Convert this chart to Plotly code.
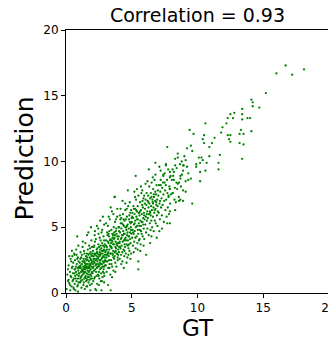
import plotly.graph_objects as go

# Sparse high-value points (read individually)
gt_sparse = [16.7,16.0,17.2,18.1,15.2,14.1,14.2,14.2,14.7,13.8,
             14.0,13.4,13.4,13.4,12.8,12.5,12.3,12.7,12.2,11.9,
             11.8,14.1,13.3,13.2,13.5,12.5,12.3,12.4,12.5,13.2,
             13.5,13.4,10.6,10.5,10.4,11.3,11.1,10.9,10.5,9.4,
             9.7,9.5,9.2,9.6,11.7,10.9,11.6,10.7,11.6,10.6,
             10.3,10.1,10.4,10.2,9.9,9.9,10.2,10.2,7.7,8.5,
             8.5,9.0,9.1,8.9,9.2,8.9,9.3,9.5,9.3,8.7,
             9.1,8.6,9.1,9.6,8.9,8.7,7.2,7.6,3.7,8.3,
             8.1,7.9,7.4,7.9,8.2,8.4,7.5,7.2,7.9,8.1,
             7.8,8.3,7.9,7.1,2.9,2.7]
pred_sparse = [17.3,16.7,16.6,17.0,15.2,14.7,14.5,14.2,14.1,13.3,
               13.3,14.0,13.6,13.2,13.7,13.6,13.3,13.3,12.9,12.6,
               12.2,12.3,12.4,12.1,12.1,12.0,12.0,11.7,11.5,11.4,
               11.3,10.2,12.9,12.0,11.7,11.8,11.4,11.1,11.4,12.4,
               12.1,11.2,11.0,10.8,10.5,10.4,9.9,9.9,9.4,9.3,
               10.3,10.3,10.1,9.9,9.8,9.6,9.2,8.5,11.1,10.6,
               10.3,10.4,10.1,9.7,9.6,9.3,9.1,8.7,8.6,8.9,
               8.5,8.4,7.7,6.8,7.0,7.1,9.3,9.7,7.3,9.7,
               9.4,9.2,8.9,8.8,8.6,8.4,8.4,8.2,7.9,7.6,
               7.4,6.3,5.3,4.7,0.8,0.2]

# Dense region (estimated)
gt_dense = [
 0.05,0.1,0.15,0.2,0.25,0.3,0.32,0.35,0.4,0.42,
 0.45,0.48,0.5,0.52,0.55,0.57,0.6,0.62,0.64,0.66,
 0.68,0.7,0.72,0.74,0.76,0.78,0.8,0.82,0.84,0.85,
 0.86,0.88,0.9,0.91,0.92,0.93,0.94,0.95,0.96,0.97,
 0.98,0.99,0.3,0.45,0.55,0.65,0.75,0.85,0.95,0.6,
 0.2,0.4,0.7,0.8,0.9,0.35,0.5,0.65,0.15,0.25,
 1.02,1.05,1.07,1.1,1.12,1.14,1.16,1.18,1.2,1.22,
 1.24,1.26,1.28,1.3,1.32,1.34,1.36,1.38,1.4,1.41,
 1.43,1.45,1.46,1.48,1.5,1.52,1.53,1.55,1.56,1.58,
 1.6,1.61,1.63,1.64,1.66,1.67,1.69,1.7,1.72,1.73,
 1.75,1.76,1.78,1.79,1.81,1.82,1.84,1.85,1.87,1.88,
 1.9,1.91,1.93,1.94,1.96,1.97,1.99,1.03,1.09,1.15,
 1.21,1.27,1.33,1.39,1.44,1.49,1.54,1.59,1.65,1.71,
 1.77,1.83,1.89,1.95,1.98,1.06,1.19,1.31,1.42,1.57,
 1.68,1.8,1.92,1.13,1.25,1.37,1.47,1.62,1.74,1.86,
 1.08,1.35,1.51,1.66,1.78,1.94,1.23,1.46,1.6,1.88,
 1.9,1.7,1.28,1.55,1.82,1.97,1.11,1.64,1.4,1.75,
 2.01,2.03,2.05,2.07,2.09,2.11,2.13,2.15,2.17,2.19,
 2.21,2.23,2.25,2.27,2.29,2.31,2.33,2.35,2.37,2.39,
 2.41,2.43,2.45,2.47,2.49,2.51,2.53,2.55,2.57,2.59,
 2.61,2.63,2.65,2.67,2.69,2.71,2.73,2.75,2.77,2.79,
 2.81,2.83,2.85,2.87,2.89,2.91,2.93,2.95,2.97,2.99,
 2.02,2.08,2.14,2.2,2.26,2.32,2.38,2.44,2.5,2.56,
 2.62,2.68,2.74,2.8,2.86,2.92,2.98,2.04,2.16,2.28,
 2.4,2.52,2.64,2.76,2.88,2.1,2.22,2.34,2.46,2.58,
 2.7,2.82,2.94,2.06,2.18,2.3,2.42,2.54,2.66,2.78,
 2.9,2.96,2.12,2.36,2.48,2.6,2.72,2.84,2.2,2.8,
 2.35,2.6,2.9,2.3,2.5,2.65,2.45,2.75,2.15,2.55,
 3.01,3.03,3.05,3.07,3.09,3.11,3.13,3.15,3.17,3.19,
 3.21,3.23,3.25,3.27,3.29,3.31,3.33,3.35,3.37,3.39,
 3.41,3.43,3.45,3.47,3.49,3.51,3.53,3.55,3.57,3.59,
 3.61,3.63,3.65,3.67,3.69,3.71,3.73,3.75,3.77,3.79,
 3.81,3.83,3.85,3.87,3.89,3.91,3.93,3.95,3.97,3.99,
 3.04,3.1,3.16,3.22,3.28,3.34,3.4,3.46,3.52,3.58,
 3.64,3.7,3.76,3.82,3.88,3.94,3.06,3.18,3.3,3.42,
 3.54,3.66,3.78,3.9,3.98,3.12,3.24,3.36,3.48,3.6,
 3.72,3.84,3.96,3.7,3.4,3.6,3.9,3.05,3.25,3.8,
 2.9,3.2,3.4,3.5,3.75,3.3,3.55,3.85,3.15,3.45,
 4.01,4.03,4.05,4.07,4.09,4.11,4.13,4.15,4.17,4.19,
 4.21,4.23,4.25,4.27,4.29,4.31,4.33,4.35,4.37,4.39,
 4.41,4.43,4.45,4.47,4.49,4.51,4.53,4.55,4.57,4.59,
 4.61,4.63,4.65,4.67,4.69,4.71,4.73,4.75,4.77,4.79,
 4.81,4.83,4.85,4.87,4.89,4.91,4.93,4.95,4.97,4.99,
 4.04,4.1,4.16,4.22,4.28,4.34,4.4,4.46,4.52,4.58,
 4.64,4.7,4.76,4.82,4.88,4.94,4.08,4.2,4.32,4.44,
 4.56,4.68,4.8,4.92,4.7,4.3,4.1,4.5,4.85,4.4,
 4.6,4.9,4.2,4.75,4.15,4.62,4.38,4.95,4.05,4.48,
 5.01,5.03,5.05,5.07,5.09,5.11,5.13,5.15,5.17,5.19,
 5.21,5.23,5.25,5.27,5.29,5.31,5.33,5.35,5.37,5.39,
 5.41,5.43,5.45,5.47,5.49,5.51,5.53,5.55,5.57,5.59,
 5.61,5.63,5.65,5.67,5.69,5.71,5.73,5.75,5.77,5.79,
 5.81,5.83,5.85,5.87,5.89,5.91,5.93,5.95,5.97,5.99,
 5.04,5.1,5.16,5.22,5.28,5.34,5.4,5.46,5.52,5.58,
 5.64,5.7,5.76,5.82,5.88,5.94,5.3,5.2,5.5,5.5,
 5.4,5.8,5.6,5.9,5.15,5.45,5.7,5.25,5.65,5.95,
 6.01,6.03,6.05,6.07,6.09,6.11,6.13,6.15,6.17,6.19,
 6.21,6.23,6.25,6.27,6.29,6.31,6.33,6.35,6.37,6.39,
 6.41,6.43,6.45,6.47,6.49,6.51,6.53,6.55,6.57,6.59,
 6.61,6.63,6.65,6.67,6.69,6.71,6.73,6.75,6.77,6.79,
 6.81,6.83,6.85,6.87,6.89,6.91,6.93,6.95,6.97,6.99,
 6.3,6.8,6.8,6.1,6.5,6.2,6.6,6.4,6.9,6.05,
 6.14,6.26,6.38,6.5,6.62,6.74,6.86,6.98,6.44,6.68,
 7.02,7.05,7.08,7.11,7.14,7.17,7.2,7.23,7.26,7.29,
 7.32,7.35,7.38,7.41,7.44,7.47,7.5,7.53,7.56,7.59,
 7.62,7.65,7.68,7.71,7.74,7.77,7.8,7.83,7.86,7.89,
 7.92,7.95,7.98,7.1,7.4,7.6,7.3,7.7,7.9,7.15,
 8.05,8.12,8.2,8.28,8.35,8.42,8.5,8.58,8.66,8.74,
 8.82,8.9,8.15,8.45,8.7,8.95,8.3,8.6,8.8,8.25,
]
pred_dense = [
 0.3,1.4,0.9,2.1,0.75,1.6,0.2,2.6,1.2,0.5,
 1.9,2.8,0.9,1.5,2.3,0.4,1.1,3.0,1.8,0.7,
 2.5,1.3,0.2,2.0,1.6,3.3,0.9,2.2,1.4,4.3,
 0.5,1.9,2.7,1.1,0.1,1.7,3.6,2.4,0.8,1.3,
 2.0,1.5,0.6,3.2,1.0,2.9,1.1,2.6,1.9,0.3,
 1.0,2.4,1.8,2.9,0.6,1.3,2.0,1.5,1.8,2.8,
 1.5,2.3,0.8,3.1,1.9,1.2,2.7,0.4,1.7,2.2,
 1.0,3.5,1.4,2.0,0.6,2.6,1.8,1.1,3.0,2.4,
 0.3,1.6,2.1,3.8,1.3,2.8,0.9,1.9,2.5,1.5,
 4.4,0.5,2.2,1.7,3.3,1.2,2.0,2.9,0.8,1.6,
 2.4,3.6,1.9,1.0,2.7,1.4,2.1,0.2,3.1,1.8,
 2.5,1.3,4.0,2.0,0.7,2.8,1.6,1.9,2.6,1.6,
 2.9,1.7,2.4,1.5,2.0,2.6,1.1,3.0,2.5,1.9,
 2.2,3.4,1.1,2.3,3.5,2.0,1.3,1.6,2.3,2.0,
 1.4,1.7,2.9,0.9,2.4,3.2,1.8,2.7,1.2,2.6,
 1.1,0.8,2.2,1.9,3.0,1.5,1.8,1.2,2.2,2.2,
 5.0,4.6,3.9,0.5,0.6,1.1,2.1,1.0,1.9,2.0,
 2.4,1.5,3.2,0.9,2.0,2.8,1.7,3.6,2.3,1.2,
 2.9,0.3,2.1,4.1,1.6,2.6,3.3,1.9,0.7,2.4,
 3.0,1.4,2.7,4.5,2.0,3.5,1.1,2.5,3.1,1.8,
 2.9,4.0,2.2,1.5,3.4,2.6,0.9,3.8,2.0,3.0,
 1.6,2.8,4.3,2.3,3.3,1.3,2.7,3.7,2.1,3.1,
 3.0,2.6,1.1,3.9,2.5,1.3,3.4,2.2,1.6,4.2,
 2.5,1.9,3.2,2.4,1.8,3.5,2.5,1.9,2.6,3.0,
 2.0,2.9,3.6,2.7,2.0,3.5,1.8,2.8,3.7,2.3,
 4.6,3.6,2.4,2.2,4.4,2.2,2.6,2.1,3.0,1.2,
 4.0,2.9,2.4,3.1,1.3,3.3,2.2,3.2,4.7,5.8,
 5.1,5.5,5.2,0.2,0.6,0.9,4.9,4.8,3.0,2.8,
 3.2,2.1,4.0,2.7,1.6,3.5,4.6,2.4,3.0,5.1,
 1.9,3.8,2.8,4.3,3.3,2.2,5.6,3.6,1.4,4.1,
 3.0,2.5,4.8,3.4,6.2,2.0,3.9,2.9,4.4,3.2,
 1.7,5.0,3.7,2.6,4.2,3.1,5.4,2.3,3.9,4.7,
 3.4,2.0,4.5,3.0,5.8,3.6,2.7,4.1,3.3,5.0,
 3.6,2.9,4.4,3.1,2.5,4.0,3.5,2.2,4.5,3.7,
 4.1,2.8,3.5,4.9,3.8,2.5,2.4,3.9,4.7,3.8,
 3.0,4.6,3.2,4.3,3.8,3.3,4.5,3.0,4.0,2.7,
 4.4,3.7,2.9,7.3,6.5,6.0,6.4,5.3,5.8,5.6,
 1.5,0.6,0.2,1.2,1.6,1.9,4.2,3.0,2.9,3.5,
 4.3,3.1,5.0,3.8,2.6,4.6,5.6,3.4,4.1,2.9,
 4.9,3.6,5.3,4.4,2.4,3.9,6.0,4.7,3.3,5.1,
 4.0,2.8,5.5,4.5,3.5,6.3,4.2,3.0,5.0,4.8,
 3.7,5.8,4.4,2.7,5.2,4.0,6.6,3.4,4.9,5.6,
 4.3,3.2,5.4,4.6,6.1,3.8,5.0,3.0,4.5,5.7,
 4.7,3.5,5.3,4.2,3.1,5.2,4.5,3.7,5.0,4.0,
 5.1,3.6,4.3,5.9,4.1,4.8,3.9,5.7,4.4,3.2,
 5.6,4.6,3.7,5.3,7.8,7.0,5.9,6.8,6.9,1.9,
 2.3,2.6,2.2,2.9,6.4,6.4,5.6,6.3,3.5,4.1,
 5.4,4.2,6.1,4.8,3.6,5.7,6.6,4.5,5.2,3.9,
 6.0,4.7,6.4,5.5,3.4,5.0,7.1,5.8,4.3,6.2,
 5.1,3.8,6.6,5.6,4.5,7.4,5.3,4.0,6.1,5.9,
 4.8,6.9,5.5,3.7,6.3,5.1,7.6,4.5,6.0,6.7,
 5.4,4.3,6.5,5.7,7.2,4.9,6.1,4.1,5.6,6.8,
 5.8,4.6,6.4,5.3,4.2,6.3,5.6,4.8,6.1,5.1,
 6.2,4.7,5.4,7.0,5.2,5.9,8.9,7.7,1.8,2.4,
 7.9,7.8,4.1,3.6,3.1,3.3,8.1,7.3,3.2,7.4,
 6.4,5.2,7.1,5.8,4.6,6.7,7.6,5.5,6.2,4.9,
 7.0,5.7,7.4,6.5,4.4,6.0,8.1,6.8,5.3,7.2,
 6.1,4.8,7.6,6.6,5.5,8.4,6.3,5.0,7.1,6.9,
 5.8,7.9,6.5,4.7,7.3,6.1,8.6,5.5,7.0,7.7,
 6.4,5.3,7.5,6.7,8.2,5.9,7.1,5.1,6.6,7.8,
 9.4,9.9,9.0,2.9,4.3,8.5,8.8,3.8,4.2,8.3,
 6.0,6.9,6.2,7.3,6.8,6.3,6.9,6.2,5.9,7.5,
 7.4,6.1,8.2,6.8,5.6,7.7,8.6,6.5,7.2,5.9,
 8.0,6.7,8.4,7.5,5.4,7.0,9.1,7.8,6.3,8.2,
 7.1,5.8,8.6,7.6,6.5,9.4,7.3,6.0,8.1,7.9,
 6.8,8.9,7.5,9.6,9.0,9.8,4.9,5.3,6.2,7.0,
 8.6,7.6,9.2,8.0,6.9,9.5,8.3,7.3,9.8,8.1,
 9.0,7.8,8.9,7.9,8.7,9.7,10.2,7.0,10.0,7.1,
]

gt = gt_dense + gt_sparse
pred = pred_dense + pred_sparse

x_ticks = [0, 5, 10, 15, 20]
y_ticks = [0, 5, 10, 15, 20]

fig = go.Figure(go.Scatter(
    x=gt, y=pred, mode="markers",
    marker=dict(color="#008000", size=2.3, line=dict(width=0)),
))

axis_common = dict(
    showgrid=False, zeroline=False, showline=True, linecolor="black",
    linewidth=1, mirror=True, ticks="outside", ticklen=4, tickcolor="black",
    tickfont=dict(family="DejaVu Sans", size=12, color="black"),
    automargin=False, ticklabeloverflow="allow",
)

# The page body adds an 8px offset, so the figure is sized to fit the window.
fig.update_layout(
    width=328, height=333,
    margin=dict(l=58, r=7, t=22, b=48),
    paper_bgcolor="white", plot_bgcolor="white",
    showlegend=False,
    title=dict(text="Correlation = 0.93", x=0.5, xref="paper", xanchor="center",
               y=1 - 7 / 333, yanchor="middle", yref="container",
               font=dict(family="DejaVu Sans", size=19, color="black")),
    xaxis=dict(range=[0, 20], tickvals=x_ticks, **axis_common),
    yaxis=dict(range=[0, 20], tickvals=y_ticks, **axis_common),
    annotations=[
        dict(text="GT", xref="paper", yref="paper", x=0.5, y=0,
             xanchor="center", yanchor="middle", yshift=-35,
             showarrow=False,
             font=dict(family="DejaVu Sans", size=23, color="black")),
        dict(text="Prediction", xref="paper", yref="paper", x=0, y=0.5,
             xanchor="center", yanchor="middle", xshift=-42, yshift=3,
             textangle=-90, showarrow=False,
             font=dict(family="DejaVu Sans", size=25, color="black")),
    ],
)

fig.write_html("out.html")
